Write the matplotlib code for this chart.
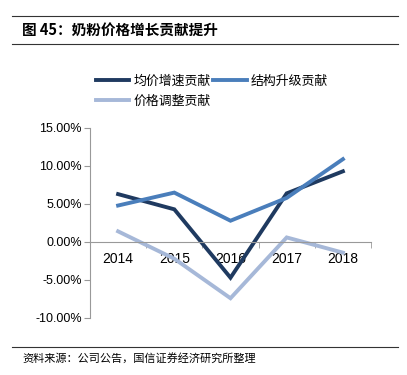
import matplotlib.pyplot as plt
import numpy as np
from matplotlib.lines import Line2D

plt.rcParams['font.family'] = ['Liberation Sans', 'Noto Sans CJK SC', 'DejaVu Sans']

years = ['2014', '2015', '2016', '2017', '2018']
avg_price = [6.3, 4.3, -4.7, 6.4, 9.3]        # 均价增速贡献
structure = [4.8, 6.5, 2.8, 5.8, 10.9]        # 结构升级贡献
price_adj = [1.4, -2.2, -7.4, 0.6, -1.4]      # 价格调整贡献

names = ['均价增速贡献', '结构升级贡献', '价格调整贡献']
colors = ['#1f3a60', '#4a7ebb', '#a6b8d8']

fig = plt.figure(figsize=(4.07, 3.75), dpi=100)
ax = fig.add_axes([90 / 407, 1 - 318 / 375, 281 / 407, 190 / 375])

x = np.arange(len(years))
series = [avg_price, structure, price_adj]
order = [2, 0, 1]
for i in order:
    ax.plot(x, np.array(series[i]) / 100, color=colors[i], lw=2.8,
            solid_joinstyle='miter')

ax.set_xlim(-0.5, len(years) - 0.5)
ax.set_ylim(-0.10, 0.15)
ax.set_yticks(np.arange(-0.10, 0.151, 0.05))
ax.set_yticklabels(['%.2f%%' % (v * 100) for v in np.arange(-0.10, 0.151, 0.05)],
                   fontsize=9)
ax.set_xticks(x)
ax.set_xticklabels(years, fontsize=9)
ax.set_xticks(np.arange(0.5, len(years), 1), minor=True)
ax.tick_params(axis='x', which='major', length=0, pad=7)
ax.tick_params(axis='x', which='minor', length=4, color='#999999', direction='out')
ax.tick_params(axis='y', length=4, color='#999999', pad=2)

for s in ['top', 'right']:
    ax.spines[s].set_visible(False)
ax.spines['left'].set_color('#999999')
ax.spines['bottom'].set_color('#999999')
ax.spines['bottom'].set_position(('data', 0))

handles = [Line2D([], [], color=c, lw=2.8) for c in colors]
leg = fig.legend([handles[0], handles[2], handles[1]],
                 [names[0], names[2], names[1]],
                 ncol=2, loc='upper left', bbox_to_anchor=(84 / 407, 1 - 63 / 375),
                 frameon=False, handlelength=2.6, handletextpad=0.3,
                 columnspacing=0.2, labelspacing=0.55,
                 prop={'family': 'Noto Sans CJK SC', 'size': 9.3})

# header / footer
fig.add_artist(Line2D([12 / 407, 398 / 407], [1 - 16 / 375] * 2, color='#333333', lw=0.8))
fig.add_artist(Line2D([12 / 407, 398 / 407], [1 - 44 / 375] * 2, color='#333333', lw=0.8))
fig.add_artist(Line2D([12 / 407, 398 / 407], [1 - 347 / 375] * 2, color='#333333', lw=0.8))
fig.text(22 / 407, 1 - 30 / 375, '图 45：奶粉价格增长贡献提升', fontsize=10.5, fontweight='bold',
         family=['Noto Sans CJK SC'], va='center')
fig.text(22 / 407, 1 - 358 / 375, '资料来源：公司公告，国信证券经济研究所整理', fontsize=8,
         family=['Noto Sans CJK SC'], va='center')

fig.savefig('out.png', dpi=100)
